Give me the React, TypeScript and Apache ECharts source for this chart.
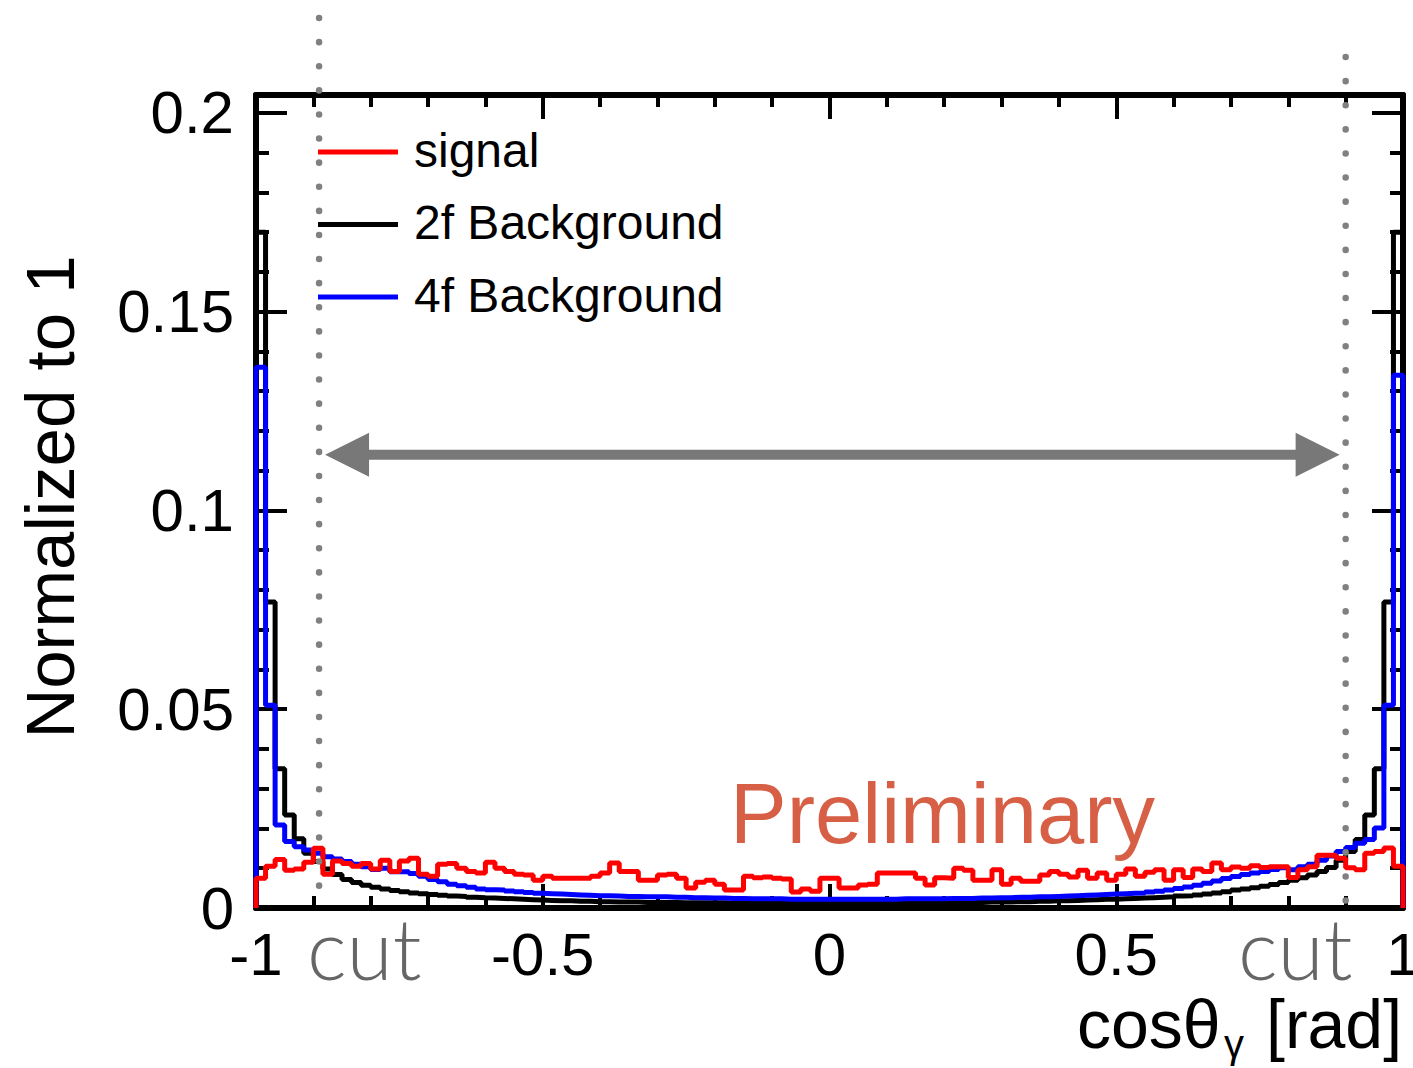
import React, { useEffect, useRef } from "react";
import * as echarts from "echarts";

// ---- data (120 bins of width 1/60 over cos(theta) in [-1, 1]) ----
const X_MIN = -1;
const X_MAX = 1;
const CUT_LOW = -0.89;
const CUT_HIGH = 0.9;

const signal = [
  0.0075, 0.0105, 0.0122, 0.0095, 0.0098, 0.0115, 0.0150, 0.0085, 0.0118, 0.0112,
  0.0105, 0.0112, 0.0098, 0.0120, 0.0092, 0.0118, 0.0125, 0.0085, 0.0080, 0.0110,
  0.0112, 0.0100, 0.0092, 0.0088, 0.0115, 0.0100, 0.0092, 0.0085, 0.0083, 0.0070,
  0.0080, 0.0075, 0.0075, 0.0075, 0.0075, 0.0080, 0.0088, 0.0113, 0.0092, 0.0092,
  0.0070, 0.0070, 0.0083, 0.0085, 0.0075, 0.0050, 0.0065, 0.0070, 0.0060, 0.0045,
  0.0045, 0.0080, 0.0076, 0.0078, 0.0075, 0.0073, 0.0040, 0.0048, 0.0042, 0.0075,
  0.0075, 0.0050, 0.0050, 0.0058, 0.0060, 0.0088, 0.0088, 0.0088, 0.0088, 0.0075,
  0.0058, 0.0076, 0.0075, 0.0100, 0.0095, 0.0070, 0.0070, 0.0096, 0.0060, 0.0075,
  0.0067, 0.0067, 0.0083, 0.0092, 0.0085, 0.0078, 0.0095, 0.0075, 0.0088, 0.0070,
  0.0085, 0.0098, 0.0080, 0.0090, 0.0096, 0.0070, 0.0096, 0.0077, 0.0098, 0.0092,
  0.0113, 0.0096, 0.0103, 0.0100, 0.0106, 0.0102, 0.0104, 0.0104, 0.0077, 0.0096,
  0.0104, 0.0133, 0.0133, 0.0125, 0.0101, 0.0096, 0.0138, 0.0142, 0.0151, 0.0105,
];

const bg2f = [
  0.1700, 0.0770, 0.0350, 0.0234, 0.0174, 0.0138, 0.0117, 0.0098, 0.0084, 0.0072,
  0.0064, 0.0057, 0.0052, 0.0048, 0.0044, 0.0041, 0.0038, 0.0036, 0.0034, 0.0032,
  0.0030, 0.0029, 0.0027, 0.0026, 0.0025, 0.0024, 0.0023, 0.0022, 0.0021, 0.0020,
  0.0019, 0.0018, 0.0018, 0.0017, 0.0017, 0.0016, 0.0016, 0.0015, 0.0015, 0.0015,
  0.0014, 0.0014, 0.0014, 0.0014, 0.0013, 0.0013, 0.0013, 0.0013, 0.0013, 0.0012,
  0.0012, 0.0012, 0.0012, 0.0012, 0.0012, 0.0012, 0.0012, 0.0012, 0.0012, 0.0012,
  0.0012, 0.0012, 0.0012, 0.0012, 0.0012, 0.0012, 0.0012, 0.0013, 0.0013, 0.0013,
  0.0013, 0.0013, 0.0014, 0.0014, 0.0014, 0.0014, 0.0015, 0.0015, 0.0015, 0.0016,
  0.0016, 0.0017, 0.0017, 0.0018, 0.0018, 0.0019, 0.0020, 0.0021, 0.0022, 0.0022,
  0.0023, 0.0024, 0.0025, 0.0026, 0.0027, 0.0028, 0.0030, 0.0031, 0.0033, 0.0035,
  0.0038, 0.0041, 0.0045, 0.0048, 0.0051, 0.0055, 0.0059, 0.0064, 0.0070, 0.0076,
  0.0083, 0.0092, 0.0102, 0.0120, 0.0142, 0.0172, 0.0234, 0.0350, 0.0770, 0.1700,
];

const bg4f = [
  0.1360, 0.0510, 0.0209, 0.0167, 0.0154, 0.0146, 0.0138, 0.0129, 0.0123, 0.0117,
  0.0110, 0.0104, 0.0097, 0.0100, 0.0091, 0.0091, 0.0087, 0.0080, 0.0072, 0.0066,
  0.0060, 0.0056, 0.0052, 0.0048, 0.0046, 0.0045, 0.0043, 0.0041, 0.0039, 0.0037,
  0.0036, 0.0035, 0.0034, 0.0033, 0.0032, 0.0031, 0.0031, 0.0030, 0.0029, 0.0029,
  0.0028, 0.0028, 0.0028, 0.0027, 0.0027, 0.0026, 0.0026, 0.0025, 0.0025, 0.0024,
  0.0024, 0.0023, 0.0023, 0.0023, 0.0023, 0.0022, 0.0022, 0.0022, 0.0022, 0.0022,
  0.0022, 0.0022, 0.0022, 0.0022, 0.0022, 0.0022, 0.0022, 0.0023, 0.0023, 0.0023,
  0.0023, 0.0023, 0.0024, 0.0024, 0.0024, 0.0025, 0.0025, 0.0026, 0.0026, 0.0027,
  0.0027, 0.0028, 0.0028, 0.0029, 0.0030, 0.0031, 0.0032, 0.0033, 0.0034, 0.0035,
  0.0036, 0.0037, 0.0038, 0.0040, 0.0042, 0.0045, 0.0049, 0.0053, 0.0057, 0.0062,
  0.0068, 0.0074, 0.0079, 0.0084, 0.0088, 0.0092, 0.0097, 0.0101, 0.0096, 0.0104,
  0.0110, 0.0120, 0.0131, 0.0142, 0.0152, 0.0163, 0.0172, 0.0201, 0.0510, 0.1340,
];

const seriesNames = ["signal", "2f Background", "4f Background"];
const seriesColors = ["#ff0000", "#000000", "#0000ff"];
const Y_MAX = 0.2045;
const Y_MAJOR = 0.05;
const Y_MINOR = 0.01;
const X_MAJOR = 0.5;

const FONT = "'Liberation Sans', Arial, Helvetica, sans-serif";
const CUT_FONT = "Lato, 'Liberation Sans', sans-serif";

function histPoints(vals: number[]) {
  const w = (X_MAX - X_MIN) / vals.length;
  const pts: number[][] = [[X_MIN, 0]];
  vals.forEach((v, i) => pts.push([X_MIN + i * w, v]));
  pts.push([X_MAX, vals[vals.length - 1]]);
  pts.push([X_MAX, 0]);
  return pts;
}

function yLabel(v: number) {
  const r = v / Y_MAJOR;
  if (Math.abs(r - Math.round(r)) > 1e-6 || v > 0.2 + 1e-9) return "";
  return String(+v.toFixed(2));
}

export default function App() {
  const ref = useRef<HTMLDivElement>(null);

  useEffect(() => {
    if (!ref.current) return;
    const chart = echarts.init(ref.current, undefined, { renderer: "svg" });

    const frame = { show: true, onZero: false, lineStyle: { color: "#000", width: 6 } };
    const xCommon = {
      type: "value",
      min: X_MIN,
      max: X_MAX,
      interval: X_MAJOR,
      axisLine: frame,
      axisTick: { show: true, inside: true, length: 24, lineStyle: { color: "#000", width: 4 } },
      minorTick: { show: true, splitNumber: 5, length: 12, lineStyle: { color: "#000", width: 4 } },
      splitLine: { show: false },
      minorSplitLine: { show: false },
    };
    const yMajor = {
      type: "value",
      min: 0,
      max: Y_MAX,
      interval: Y_MAJOR,
      axisLine: frame,
      axisTick: { show: true, inside: true, length: 31, lineStyle: { color: "#000", width: 4 } },
      splitLine: { show: false },
    };
    const yMinor = {
      type: "value",
      min: 0,
      max: Y_MAX,
      interval: Y_MINOR,
      axisLine: { show: false, onZero: false },
      axisTick: { show: true, inside: true, length: 13, lineStyle: { color: "#000", width: 4 } },
      axisLabel: { show: false },
      splitLine: { show: false },
    };

    const series = [1, 2, 0].map((i) => ({
      name: seriesNames[i],
      type: "line",
      step: "end",
      data: histPoints([signal, bg2f, bg4f][i]),
      showSymbol: false,
      symbol: "none",
      xAxisIndex: 0,
      yAxisIndex: 0,
      lineStyle: { color: seriesColors[i], width: 5 },
      itemStyle: { color: seriesColors[i] },
      z: 3,
    }));

    chart.setOption({
      animation: false,
      backgroundColor: "#ffffff",
      grid: { left: 256, top: 95, width: 1147, height: 813, containLabel: false, outerBoundsMode: "none" },
      xAxis: [
        {
          ...xCommon,
          position: "bottom",
          axisLabel: { show: true, fontSize: 60, color: "#000", fontFamily: FONT, margin: 16 },
        },
        { ...xCommon, position: "top", axisLabel: { show: false } },
      ],
      yAxis: [
        {
          ...yMajor,
          position: "left",
          axisLabel: { show: true, fontSize: 60, color: "#000", fontFamily: FONT, margin: 22, formatter: yLabel, showMaxLabel: false },
        },
        { ...yMinor, position: "left" },
        { ...yMajor, position: "right", axisLabel: { show: false } },
        { ...yMinor, position: "right" },
      ],
      series,
    });

    const xl = chart.convertToPixel({ xAxisIndex: 0 }, CUT_LOW) as number;
    const xr = chart.convertToPixel({ xAxisIndex: 0 }, CUT_HIGH) as number;
    const ay = chart.convertToPixel({ yAxisIndex: 0 }, 0.114) as number;
    const gray = "#787878";

    const legendRows = [0, 1, 2].map((i) => {
      const y = 152 + i * 72.5;
      return [
        { type: "line", shape: { x1: 318, y1: y, x2: 398, y2: y }, style: { stroke: seriesColors[i], lineWidth: 5 }, z: 10 },
        {
          type: "text",
          x: 414,
          y: y - 2,
          style: { text: seriesNames[i], fontSize: 48, fontFamily: FONT, fill: "#000", textAlign: "left", textVerticalAlign: "middle" },
          z: 10,
        },
      ];
    }).flat();

    chart.setOption({
      graphic: [
        // cut lines (dotted)
        { type: "line", shape: { x1: xl, y1: 18, x2: xl, y2: 890 }, style: { stroke: "#808080", lineWidth: 6.5, lineDash: [0.1, 24], lineCap: "round" }, z: 5 },
        { type: "line", shape: { x1: xr, y1: 57, x2: xr, y2: 922 }, style: { stroke: "#808080", lineWidth: 6.5, lineDash: [0.1, 24], lineCap: "round" }, z: 5 },
        // arrow
        { type: "line", shape: { x1: xl + 40, y1: ay, x2: xr - 40, y2: ay }, style: { stroke: gray, lineWidth: 10 }, z: 6 },
        { type: "polygon", shape: { points: [[xl + 6, ay], [xl + 50, ay - 22], [xl + 50, ay + 22]] }, style: { fill: gray }, z: 6 },
        { type: "polygon", shape: { points: [[xr - 6, ay], [xr - 50, ay - 22], [xr - 50, ay + 22]] }, style: { fill: gray }, z: 6 },
        // legend
        ...legendRows,
        // Preliminary
        { type: "text", x: 730, y: 856, style: { text: "Preliminary", fontSize: 85, fontFamily: FONT, fill: "#d65f45", textAlign: "left", textVerticalAlign: "bottom" }, z: 10 },
        // cut labels
        { type: "text", x: 307, y: 989, style: { text: "cut", fontSize: 84, fontFamily: CUT_FONT, fontWeight: 300, fill: "#666666", textAlign: "left", textVerticalAlign: "bottom" }, z: 10 },
        { type: "text", x: 1238, y: 989, style: { text: "cut", fontSize: 84, fontFamily: CUT_FONT, fontWeight: 300, fill: "#666666", textAlign: "left", textVerticalAlign: "bottom" }, z: 10 },
        // y-axis title
        { type: "text", x: 50, y: 497, rotation: Math.PI / 2, style: { text: "Normalized to 1", fontSize: 69, fontFamily: FONT, fill: "#000", textAlign: "center", textVerticalAlign: "middle" }, z: 10 },
        // x-axis title
        { type: "text", x: 1077, y: 1058, style: { text: "cos\u03b8", fontSize: 68, fontFamily: FONT, fill: "#000", textAlign: "left", textVerticalAlign: "bottom" }, z: 10 },
        { type: "text", x: 1224, y: 1064, style: { text: "\u03b3", fontSize: 40, fontFamily: FONT, fill: "#000", textAlign: "left", textVerticalAlign: "bottom" }, z: 10 },
        { type: "text", x: 1266, y: 1058, style: { text: "[rad]", fontSize: 68, fontFamily: FONT, fill: "#000", textAlign: "left", textVerticalAlign: "bottom" }, z: 10 },
      ],
    });

    return () => chart.dispose();
  }, []);

  return (
    <div
      ref={ref}
      style={{ position: "fixed", left: 0, top: 0, width: 1413, height: 1068, background: "#fff" }}
    />
  );
}
